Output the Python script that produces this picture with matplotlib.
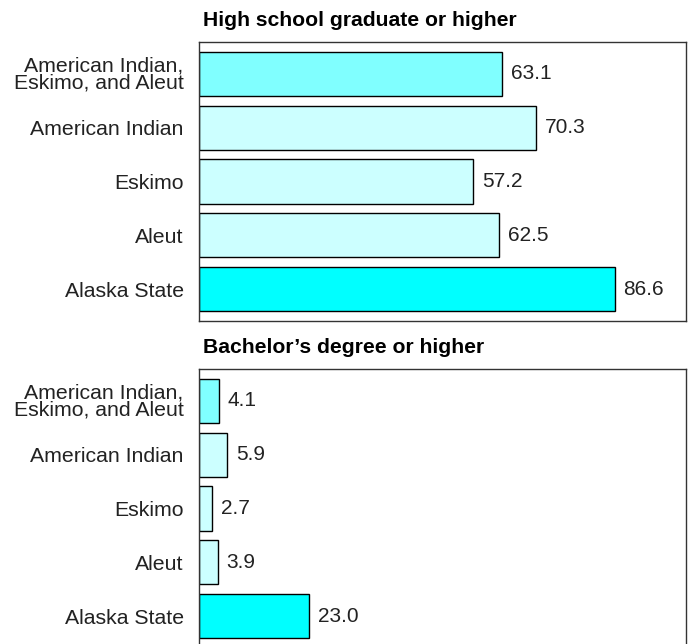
import matplotlib.pyplot as plt

categories = ["American Indian,\nEskimo, and Aleut", "American Indian", "Eskimo", "Aleut", "Alaska State"]
hs_values = [63.1, 70.3, 57.2, 62.5, 86.6]
ba_values = [4.1, 5.9, 2.7, 3.9, 23.0]
hs_labels = ["63.1", "70.3", "57.2", "62.5", "86.6"]
ba_labels = ["4.1", "5.9", "2.7", "3.9", "23.0"]
titles = ["High school graduate or higher", "Bachelor\u2019s degree or higher"]
colors = ["#80FFFF", "#CCFFFF", "#CCFFFF", "#CCFFFF", "#00FFFF"]

plt.rcParams['font.family'] = ['Liberation Sans', 'DejaVu Sans']

W, H = 690, 644
fig = plt.figure(figsize=(W / 100, H / 100), dpi=100)

def make_ax(top_px, bottom_px):
    left, right = 199, 686
    return fig.add_axes([left / W, 1 - bottom_px / H, (right - left) / W, (bottom_px - top_px) / H])

axes = [make_ax(42, 321), make_ax(369, 648)]
data = [(hs_values, hs_labels), (ba_values, ba_labels)]
txt_color = "#222222"

for ax, (vals, labs), title in zip(axes, data, titles):
    y = list(range(len(categories)))
    ax.barh(y, vals, height=0.82, color=colors, edgecolor="black", linewidth=1.0)
    ax.set_ylim(4.59, -0.59)
    ax.set_xlim(0, 101.5)
    ax.set_yticks(y)
    ax.set_yticklabels(categories, fontsize=15.3, linespacing=0.88, color=txt_color)
    ax.set_xticks([])
    ax.tick_params(axis='y', length=0, pad=11)
    for s in ax.spines.values():
        s.set_color("#333333")
        s.set_linewidth(1.0)
    for yi, v, t in zip(y, vals, labs):
        ax.annotate(t, (v, yi), xytext=(9, 0), textcoords="offset pixels",
                    va="center", ha="left", fontsize=15, color=txt_color)
    ax.text(4 / 487, 1.0 + 21 / 279, title, transform=ax.transAxes, fontsize=15.2,
            fontweight="bold", ha="left", va="center")

fig.savefig("out.png", dpi=100)
